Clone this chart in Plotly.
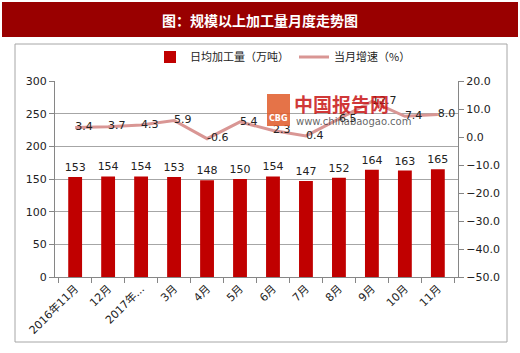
import plotly.graph_objects as go

categories = ["2016年11月", "12月", "2017年...", "3月", "4月", "5月", "6月", "7月", "8月", "9月", "10月", "11月"]
daily_output = [153, 154, 154, 153, 148, 150, 154, 147, 152, 164, 163, 165]
growth = [3.4, 3.7, 4.3, 5.9, -0.6, 5.4, 2.3, 0.4, 6.5, 12.7, 7.4, 8.0]

FONT = "DejaVu Sans, Noto Sans CJK SC"
L, R, T, B = 55, 458, 81, 277
W = R - L
H = B - T

def px(x):
    return (x - L) / W

def py(y):
    return (B - y) / H

fig = go.Figure()
fig.add_trace(go.Bar(
    x=categories, y=daily_output, name="日均加工量（万吨）",
    marker=dict(color="#C00000", line=dict(width=0)), width=0.42,
    text=[str(v) for v in daily_output], textposition="outside", constraintext="none",
    textfont=dict(size=11, color="#222222"), cliponaxis=False,
))
fig.add_trace(go.Scatter(
    x=categories, y=growth, name="当月增速（%）", yaxis="y2", mode="lines+text",
    line=dict(color="#D99694", width=3),
    text=[f"{v:.1f}" for v in growth], textposition="middle right",
    textfont=dict(size=11, color="#222222"), cliponaxis=False,
))

shapes = [
    dict(type="rect", xref="paper", yref="paper", x0=px(2), x1=px(518), y0=py(37), y1=py(2),
         fillcolor="#990000", line=dict(width=0), layer="below"),
    dict(type="rect", xref="paper", yref="paper", x0=px(15), x1=px(507), y0=py(342), y1=py(44),
         fillcolor="rgba(0,0,0,0)", line=dict(color="#A6A6A6", width=1), layer="below"),
    # watermark logo box
    dict(type="rect", xref="paper", yref="paper", x0=px(267), x1=px(290), y0=py(126), y1=py(94),
         fillcolor="rgba(225,90,40,0.85)", line=dict(width=0)),
]
annotations = [
    dict(text="<b>图：规模以上加工量月度走势图</b>", xref="paper", yref="paper", x=px(260), y=py(19.5),
         showarrow=False, font=dict(size=14, color="white", family="Noto Sans CJK SC"), xanchor="center", yanchor="middle"),
    dict(text="<b>中国报告网</b>", xref="paper", yref="paper", x=px(292), y=py(103),
         showarrow=False, font=dict(size=19, color="rgba(200,20,20,0.85)", family="Noto Sans CJK SC"), xanchor="left", yanchor="middle"),
    dict(text="www.chinabaogao.com", xref="paper", yref="paper", x=px(294), y=py(121),
         showarrow=False, font=dict(size=10, color="rgba(60,60,60,0.8)", family=FONT), xanchor="left", yanchor="middle"),
    dict(text="<b>CBG</b>", xref="paper", yref="paper", x=px(278.5), y=py(118),
         showarrow=False, font=dict(size=8, color="white", family=FONT), xanchor="center", yanchor="middle"),
]

fig.update_layout(
    width=520, height=353,
    margin=dict(l=L, r=520 - R, t=T, b=353 - B),
    paper_bgcolor="white", plot_bgcolor="white",
    font=dict(family=FONT, size=11, color="#222222"),
    showlegend=True,
    legend=dict(orientation="h", x=px(150), y=py(57), xanchor="left", yanchor="middle",
                font=dict(size=11, family="Noto Sans CJK SC, DejaVu Sans"), bgcolor="rgba(0,0,0,0)",
                itemwidth=30, tracegroupgap=0),
    bargap=0.5,
    xaxis=dict(type="category", showline=True, linecolor="#868686", linewidth=1,
               ticks="outside", tickson="boundaries", ticklen=5, tickcolor="#868686",
               tickangle=-45, tickfont=dict(size=11, family="DejaVu Sans, Noto Sans CJK SC"), showgrid=False),
    yaxis=dict(range=[0, 300], dtick=50, showline=True, linecolor="#868686", linewidth=1,
               ticks="outside", ticklen=5, tickcolor="#868686",
               showgrid=True, gridcolor="#A6A6A6", gridwidth=1, zeroline=False,
               tickfont=dict(size=11)),
    yaxis2=dict(range=[-50, 20], dtick=10, overlaying="y", side="right", showline=True,
                linecolor="#868686", linewidth=1, ticks="outside", ticklen=5, tickcolor="#868686",
                showgrid=False, zeroline=False, tickformat=".1f", tickfont=dict(size=11)),
    shapes=shapes, annotations=annotations,
)

fig.write_html("out.html")
